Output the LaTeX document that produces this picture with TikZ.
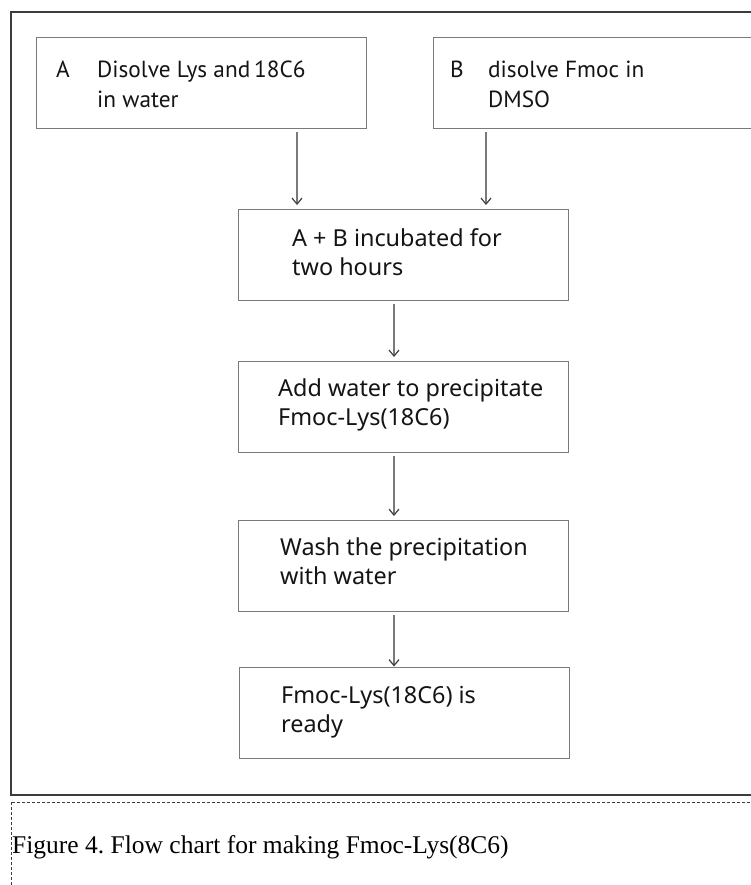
\documentclass[tikz,border=0pt]{standalone}
\usepackage{fontspec}
\setmainfont{Noto Sans}
\newfontfamily\capfont{Liberation Serif}
\newfontfamily\topfont{PT Sans}
\usetikzlibrary{arrows.meta}
\frenchspacing
\definecolor{boxgray}{HTML}{7A7A7A}
\definecolor{framegray}{HTML}{3C3C3C}
\definecolor{txtcol}{HTML}{141414}
\definecolor{tipgray}{HTML}{404040}
\tikzset{
  stepbox/.style={draw=boxgray, line width=1.3bp, minimum width=330bp, minimum height=91bp, anchor=north west, inner sep=0pt},
  txt/.style={anchor=base west, inner sep=0pt, text=txtcol, font=\fontsize{23.4bp}{28bp}\selectfont},
  toptxt/.style={anchor=base west, inner sep=0pt, text=txtcol, font=\topfont\fontsize{23.3bp}{28bp}\selectfont},
  arr/.style={draw=boxgray, line width=1.1bp, -{Straight Barb[length=6bp,width=10bp,line width=1.2bp,color=tipgray]}, shorten <=3bp, shorten >=4bp},
}
\begin{document}
\begin{tikzpicture}[x=1bp,y=-1bp]
\useasboundingbox (0,0) rectangle (751,885);
\fill[white] (0,0) rectangle (751,885);
% outer frame
\draw[framegray, line width=1.5bp] (11,12) rectangle (820,795);
% caption box
\draw[framegray, line width=0.8bp, dash pattern=on 3bp off 2bp] (11,802) rectangle (820,960);
% boxes
\node[stepbox] (A) at (36,37) {};
\node[stepbox, minimum width=400bp] (B) at (433,37) {};
\node[stepbox] (C) at (238,209) {};
\node[stepbox] (D) at (238,361) {};
\node[stepbox] (E) at (238,520) {};
\node[stepbox] (F) at (239,667) {};
% texts
\node[toptxt] (tA0) at (56,77) {A};
\node[toptxt] (tA1) at (97,77) {Disolve Lys and\,18C6};
\node[toptxt] (tA2) at (97,107) {in water};
\node[toptxt] (tB0) at (450,77) {B};
\node[toptxt] (tB1) at (488,77) {disolve Fmoc in};
\node[toptxt] (tB2) at (488,107) {DMSO};
\node[txt] (tC1) at (292,246) {A + B incubated for};
\node[txt] (tC2) at (292,275) {two hours};
\node[txt] (tD1) at (278,396) {Add water to precipitate};
\node[txt] (tD2) at (278,425) {Fmoc-Lys(18C6)};
\node[txt] (tE1) at (280,555) {Wash the precipitation};
\node[txt] (tE2) at (280,584) {with water};
\node[txt] (tF1) at (281,703) {Fmoc-Lys(18C6) is};
\node[txt] (tF2) at (281,732) {ready};
\node[anchor=base west, inner sep=0pt, text=black, font=\capfont\fontsize{25.5bp}{29bp}\selectfont] (cap) at (12,853) {Figure 4. Flow chart for making Fmoc-Lys(8C6)};
% connectors
\coordinate (xa) at (297,0);
\coordinate (xb) at (486,0);
\coordinate (xm) at (394,0);
\draw[arr] (A.south -| xa) -- (C.north -| xa);
\draw[arr] (B.south -| xb) -- (C.north -| xb);
\draw[arr] (C.south -| xm) -- (D.north -| xm);
\draw[arr] (D.south -| xm) -- (E.north -| xm);
\draw[arr, shorten >=0.5bp] (E.south -| xm) -- (F.north -| xm);
\end{tikzpicture}
\end{document}
